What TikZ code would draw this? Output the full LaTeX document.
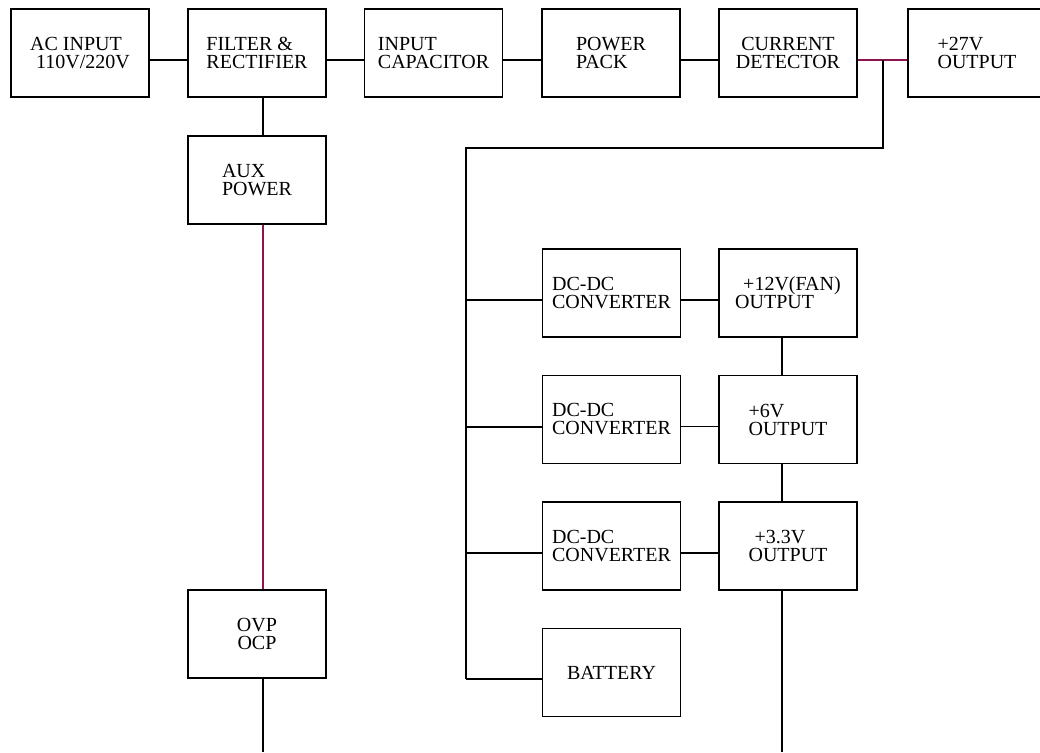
\documentclass[tikz,border=0pt]{standalone}
\usepackage{fontspec}
\setmainfont{Liberation Serif}
\usetikzlibrary{positioning}

\definecolor{wirered}{RGB}{140,20,80}

\begin{document}
\begin{tikzpicture}[x=1pt, y=-1pt,
    blk/.style={draw, line width=1.2pt, minimum width=138pt, minimum height=88pt,
      inner sep=0pt, align=left, font=\fontsize{20}{18}\selectfont},
    wire/.style={line width=1.2pt},
    hot/.style={wire, wirered}]
  \useasboundingbox (0,0) rectangle (1040,752);
  % top chain
  \node[blk] (acin) at (80,53) {AC INPUT\\\hspace{0.3em}110V/220V};
  \node[blk] (filt) at (257,53) {FILTER \&\\RECTIFIER};
  \node[blk] (incap) at (433.5,53) {INPUT\\CAPACITOR};
  \node[blk] (pack) at (611,53) {POWER\\PACK};
  \node[blk, align=center] (curdet) at (788,53) {CURRENT\\DETECTOR};
  \node[blk] (out27) at (977,53) {+27V\\OUTPUT};
  % left column
  \node[blk] (aux) at (257,180) {AUX\\POWER};
  \node[blk, align=center] (ovp) at (257,634) {OVP\\OCP};
  % converters and outputs
  \node[blk] (dc1) at (611.5,293) {DC-DC\\CONVERTER};
  \node[blk] (dc2) at (611.5,419.5) {DC-DC\\CONVERTER};
  \node[blk] (dc3) at (611.5,546) {DC-DC\\CONVERTER};
  \node[blk] (batt) at (611.5,672.5) {BATTERY};
  \node[blk] (out12) at (788,293) {\hspace{0.4em}+12V(FAN)\\OUTPUT};
  \node[blk] (out6) at (788,419.5) {+6V\\OUTPUT};
  \node[blk] (out33) at (788,546) {\hspace{0.3em}+3.3V\\OUTPUT};

  \coordinate (tap) at (883,60);
  \coordinate (bustop) at (466,148);
  \coordinate (b1) at (466,300);
  \coordinate (b2) at (466,427);
  \coordinate (b3) at (466,553);
  \coordinate (b4) at (466,679);
  \coordinate (ovpend) at (263,752);
  \coordinate (o33end) at (782,752);

  \draw[wire] ([yshift=-7pt]acin.east) -- ([yshift=-7pt]filt.west);
  \draw[wire] ([yshift=-7pt]filt.east) -- ([yshift=-7pt]incap.west);
  \draw[wire] ([yshift=-7pt]incap.east) -- ([yshift=-7pt]pack.west);
  \draw[wire] ([yshift=-7pt]pack.east) -- ([yshift=-7pt]curdet.west);
  \draw[hot] ([yshift=-7pt]curdet.east) -- ([yshift=-7pt]out27.west);
  \draw[wire] ([xshift=6pt]filt.south) -- ([xshift=6pt]aux.north);
  \draw[hot] ([xshift=6pt]aux.south) -- ([xshift=6pt]ovp.north);
  \draw[wire] ([xshift=6pt]ovp.south) -- (ovpend);

  % bus to converters
  \draw[wire] (tap) |- (bustop) -- (b4);
  \foreach \b/\n in {b1/dc1, b2/dc2, b3/dc3, b4/batt}
    \draw[wire] (\b) -- (\b -| \n.west);
  \draw[wire] ([yshift=-7pt]dc1.east) -- ([yshift=-7pt]out12.west);
  \draw[wire] ([yshift=-7pt]dc2.east) -- ([yshift=-7pt]out6.west);
  \draw[wire] ([yshift=-7pt]dc3.east) -- ([yshift=-7pt]out33.west);
  \draw[wire] ([xshift=-6pt]out12.south) -- ([xshift=-6pt]out6.north);
  \draw[wire] ([xshift=-6pt]out6.south) -- ([xshift=-6pt]out33.north);
  \draw[wire] ([xshift=-6pt]out33.south) -- (o33end);
\end{tikzpicture}
\end{document}
